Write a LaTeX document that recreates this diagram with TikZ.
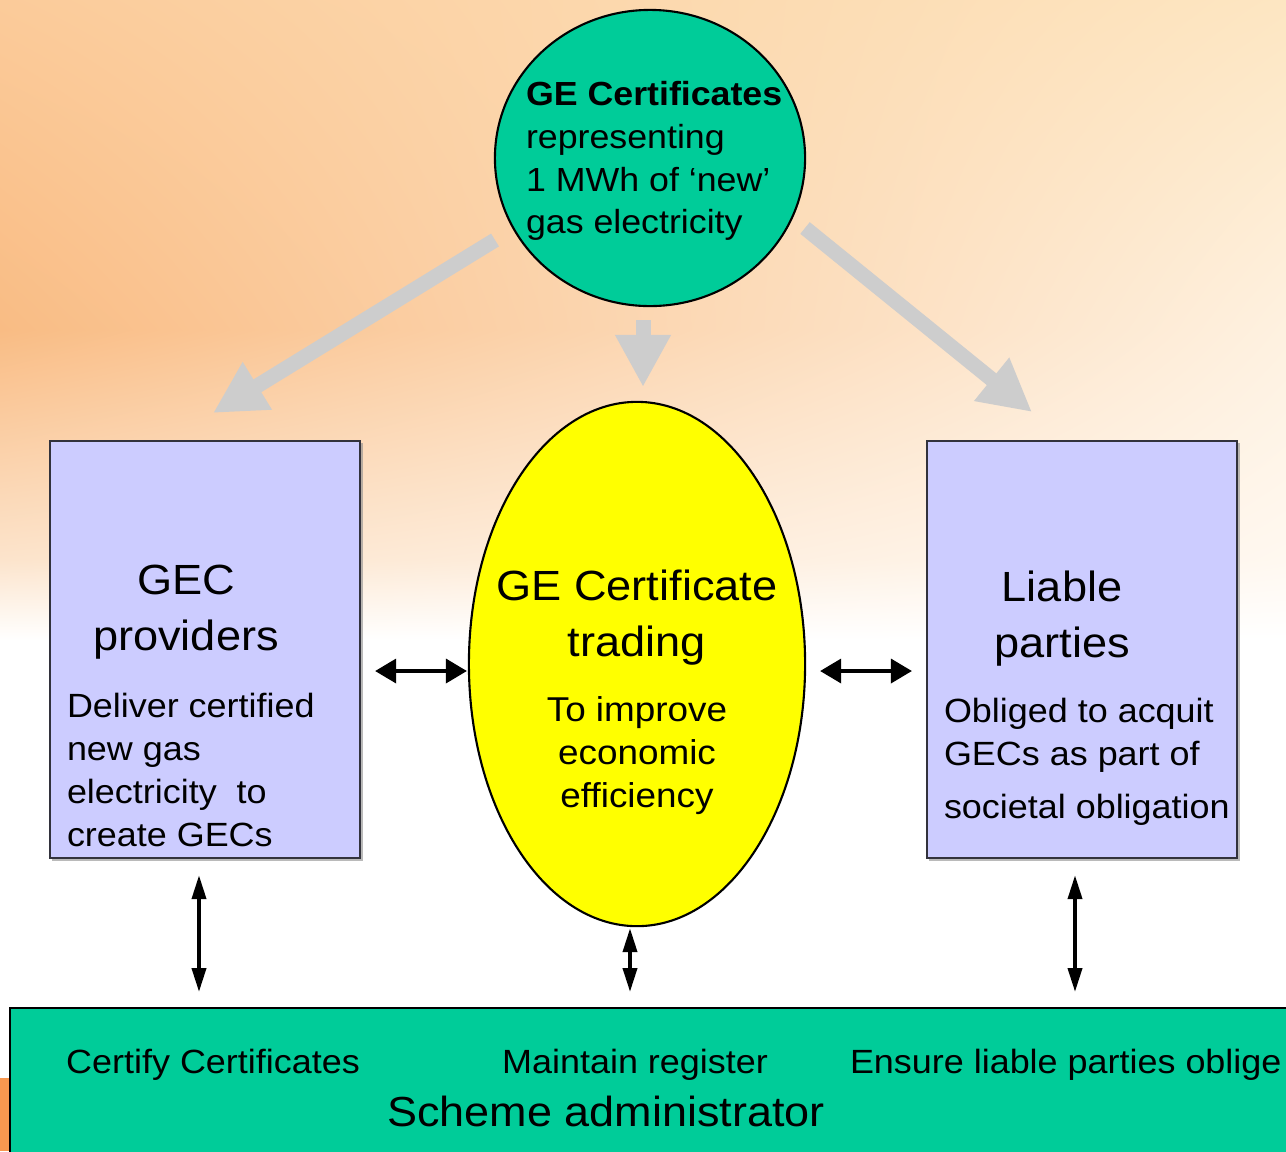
\documentclass[tikz,border=0pt]{standalone}
\usepackage{fontspec}
\setmainfont{Liberation Sans}[FakeStretch=1.07]
\usepackage{tikz}
\usetikzlibrary{positioning}
\usetikzlibrary{arrows.meta}
\usetikzlibrary{shapes.geometric}
\usetikzlibrary{shadows}
\usetikzlibrary{shadings}
\definecolor{GECGreen}{RGB}{0,204,153}
\definecolor{GECLilac}{RGB}{204,204,255}
\definecolor{GECYellow}{RGB}{255,255,0}
\definecolor{GECEdge}{RGB}{50,50,60}
\definecolor{GECGrey}{RGB}{205,205,205}
\definecolor{GECTab}{RGB}{248,152,80}
\definecolor{BgPeachA}{RGB}{251,203,154}
\definecolor{BgPeachB}{RGB}{253,230,194}
\definecolor{BgOrange}{RGB}{249,188,132}
\definecolor{BgCream}{RGB}{254,241,224}
\definecolor{BgPale}{RGB}{252,228,204}
\definecolor{BgPaler}{RGB}{255,248,240}

\begin{document}
\begin{tikzpicture}[
x=0.01cm,
y=-0.01cm,
every node/.style={text=black,outer sep=0pt,inner sep=0pt},
party/.style={draw=GECEdge,fill=GECLilac,line width=0.5pt,minimum width=3.10cm,minimum height=4.17cm,drop shadow={shadow xshift=0.025cm,shadow yshift=-0.025cm,fill=black!45,opacity=0.6}},
certdisc/.style={ellipse,draw=black,fill=GECGreen,line width=0.6pt,minimum width=3.10cm,minimum height=2.96cm},
tradedisc/.style={ellipse,draw=black,fill=GECYellow,line width=0.6pt,minimum width=3.36cm,minimum height=5.24cm},
admin/.style={draw=black,fill=GECGreen,line width=0.6pt,minimum width=13.00cm,minimum height=1.60cm},
headtext/.style={font=\fontsize{12pt}{15.8pt}\selectfont,align=center},
bodytext/.style={font=\fontsize{9.55pt}{12.2pt}\selectfont,align=left},
disctext/.style={font=\fontsize{9.5pt}{12.2pt}\selectfont},
dutytext/.style={font=\fontsize{9.55pt}{12pt}\selectfont},
feed/.style={-{Triangle[length=0.52cm,width=0.52cm]},line width=0.15cm,draw=GECGrey},
hlink/.style={{Triangle[length=0.21cm,width=0.24cm]}-{Triangle[length=0.21cm,width=0.24cm]},line width=0.035cm},
vlink/.style={{Triangle[length=0.24cm,width=0.14cm]}-{Triangle[length=0.24cm,width=0.14cm]},line width=0.038cm}
]

\clip (0,0) rectangle (1286,1151);
\fill[white] (0,0) rectangle (1286,1151);
\shade[upper left=BgPeachA,upper right=BgPeachB,lower left=BgOrange,lower right=BgCream] (0,0) rectangle (1286,330);
\shade[upper left=BgOrange,upper right=BgCream,lower left=BgPale,lower right=BgPaler] (0,330) rectangle (1286,560);
\shade[upper left=BgPale,upper right=BgPaler,lower left=white,lower right=white] (0,560) rectangle (1286,640);

\fill[GECTab] (0,1078) rectangle (12,1151);

\node[certdisc] (cert) at (650,158) {};
\node[disctext,align=left,anchor=north west] (certlabel) at (526,81) {\textbf{GE Certificates}\\representing\\1 MWh of ‘new’\\gas electricity};

\node[party] (gecbox) at (205,649.5) {};
\node[party] (liabbox) at (1082,649.5) {};
\node[tradedisc] (trading) at (637,664) {};

\node[headtext,anchor=north] (gechead) at (186,565) {GEC\\providers};
\node[bodytext,anchor=north west] (gecbody) at (67,693) {Deliver certified\\new gas\\electricity\ \ to\\create GECs};

\node[headtext,anchor=north] (liabhead) at (1062,571) {Liable\\parties};
\node[bodytext,anchor=north west] (liabbody) at (944,698) {Obliged to acquit\\GECs as part of\\[3pt]societal obligation};

\node[headtext,anchor=north] (tradehead) at (637,570) {GE Certificate\\trading};
\node[disctext,font=\fontsize{9.8pt}{12.2pt}\selectfont,align=center,anchor=north] (tradebody) at (637,697) {To improve\\economic\\efficiency};

\node[admin,anchor=north west] (scheme) at (10,1008) {};
\node[dutytext,anchor=base] (certify) at (213,1073) {Certify Certificates};
\node[dutytext,anchor=base] (register) at (635,1073) {Maintain register};
\node[dutytext,anchor=base west] (ensure) at (850,1073) {Ensure liable parties oblige};
\node[font=\fontsize{11.95pt}{14pt}\selectfont,anchor=base] (schemelabel) at (606,1126) {Scheme administrator};

\coordinate (provtail) at (495,240);
\coordinate (provtip) at (213,413);
\coordinate (tradetip) at (643,387);
\coordinate (liabtail) at (805,228);
\coordinate (liabtip) at (1032,412);
\coordinate (midrow) at (0,671);

\draw[feed] (provtail) -- (provtip);
\draw[feed,shorten <=0.14cm] (cert.south -| tradetip) -- (tradetip);
\draw[feed] (liabtail) -- (liabtip);

\draw[hlink,shorten <=0.15cm,shorten >=0.02cm] (gecbox.east |- midrow) -- (trading.west |- midrow);
\draw[hlink,shorten <=0.15cm,shorten >=0.15cm] (trading.east |- midrow) -- (liabbox.west |- midrow);

\draw[vlink,shorten <=0.17cm,shorten >=0.16cm] ([xshift=-0.06cm]gecbox.south) -- ([xshift=-0.06cm]gecbox.south |- scheme.north);
\draw[vlink,shorten <=0.02cm,shorten >=0.16cm] ([xshift=-0.07cm]trading.south) -- ([xshift=-0.07cm]trading.south |- scheme.north);
\draw[vlink,shorten <=0.17cm,shorten >=0.16cm] ([xshift=-0.07cm]liabbox.south) -- ([xshift=-0.07cm]liabbox.south |- scheme.north);

\end{tikzpicture}
\end{document}
